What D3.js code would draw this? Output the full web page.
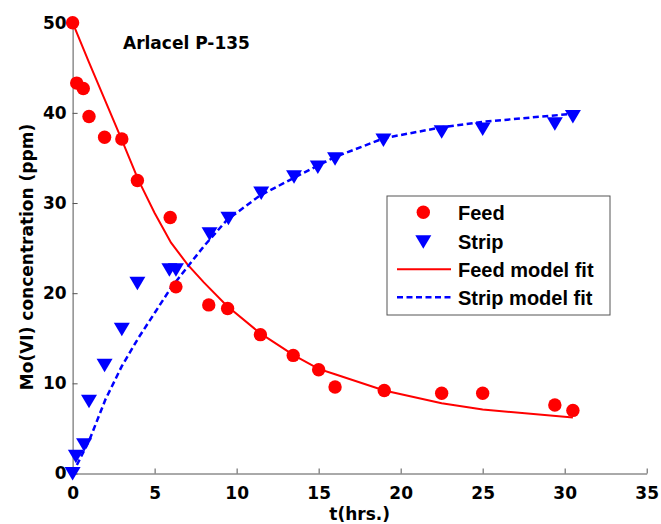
<!DOCTYPE html>
<html>
<head>
<meta charset="utf-8">
<script src="https://cdn.jsdelivr.net/npm/d3@7"></script>
<style>
  body { margin: 0; background: #fff; }
  text { font-family: "DejaVu Sans", sans-serif; font-weight: bold; fill: #000; }
  .axis path, .axis line { stroke: #555; }
</style>
</head>
<body>
<div class="container"></div>
<script>
// measured points
const feedT = [0, 0.25, 0.65, 1.0, 1.95, 3.0, 3.95, 5.95, 6.3, 8.3, 9.45, 11.45, 13.45, 15.0, 16.0, 19.0, 22.5, 25.0, 29.4, 30.5]
const feedV = [50, 43.3, 42.7, 39.6, 37.3, 37.1, 32.5, 28.4, 20.7, 18.7, 18.3, 15.4, 13.1, 11.5, 9.6, 9.2, 8.9, 8.9, 7.6, 7.0]
const stripT = [0, 0.2, 0.7, 1.0, 1.95, 3.0, 3.95, 5.9, 6.3, 8.35, 9.5, 11.5, 13.5, 14.95, 16.0, 18.95, 22.5, 25.0, 29.4, 30.5]
const stripV = [0, 1.9, 3.2, 8.0, 12.0, 16.0, 21.1, 22.6, 22.6, 26.6, 28.3, 31.1, 32.9, 34.0, 34.9, 37.0, 37.9, 38.2, 38.8, 39.6]

// model fits
const fitT = [0, 1, 2, 3, 4, 5, 6, 7, 8, 9.4, 11.4, 13.5, 15, 16, 19, 22.5, 25, 30.5]
const feedFit = [50, 45.6, 41.3, 37.0, 32.6, 28.9, 25.6, 23.2, 21.2, 18.6, 15.6, 13.1, 11.6, 11.0, 9.2, 7.8, 7.1, 6.2]
const stripFit = [0, 3.6, 8.2, 11.9, 15.0, 17.8, 20.6, 22.9, 25.2, 28.1, 30.8, 32.8, 34.2, 35.1, 37.2, 38.4, 39.0, 39.9]

const xTicks = [0, 5, 10, 15, 20, 25, 30, 35]
const yTicks = [0, 10, 20, 30, 40, 50]
const legendLabels = ['Feed', 'Strip', 'Feed model fit', 'Strip model fit']

let width = 661
let height = 524
let margin = { left: 72.6, right: 14.3, top: 22.7, bottom: 50.5 }

let svg = d3.select('.container')
    .append('svg')
    .attr('width', width)
    .attr('height', height)

let xScale = d3.scaleLinear()
    .domain([0, 35])
    .range([margin.left, width - margin.right])

let yScale = d3.scaleLinear()
    .domain([0, 50])
    .range([height - margin.bottom, margin.top])

let xAxis = d3.axisBottom(xScale)
    .tickValues(xTicks)
    .tickSizeInner(-5)
    .tickSizeOuter(0)
    .tickPadding(9)

let yAxis = d3.axisLeft(yScale)
    .tickValues(yTicks)
    .tickSizeInner(-5)
    .tickSizeOuter(0)
    .tickPadding(6)

let gx = svg.append('g')
    .attr('class', 'x axis')
    .attr('transform', `translate(0,${height - margin.bottom})`)
    .call(xAxis)
gx.selectAll('text').style('font-size', '17px').attr('dy', '0.95em')

let gy = svg.append('g')
    .attr('class', 'y axis')
    .attr('transform', `translate(${margin.left},0)`)
    .call(yAxis)
gy.selectAll('text').style('font-size', '17px')

// axis titles
svg.append('text')
    .attr('x', xScale(17.5))
    .attr('y', 520)
    .attr('text-anchor', 'middle')
    .style('font-size', '17px')
    .text('t(hrs.)')

svg.append('text')
    .attr('transform', 'translate(33,257) rotate(-90)')
    .attr('text-anchor', 'middle')
    .style('font-size', '17px')
    .text('Mo(VI) concentration (ppm)')

svg.append('text')
    .attr('x', 123)
    .attr('y', 48.5)
    .style('font-size', '17px')
    .text('Arlacel P-135')

// fit lines
let line = d3.line()
    .x((d) => xScale(d[0]))
    .y((d) => yScale(d[1]))

svg.append('path')
    .datum(fitT.map((t, i) => [t, feedFit[i]]))
    .attr('d', line)
    .attr('fill', 'none')
    .attr('stroke', '#ff0000')
    .attr('stroke-width', 2)

svg.append('path')
    .datum(fitT.map((t, i) => [t, stripFit[i]]))
    .attr('d', line)
    .attr('fill', 'none')
    .attr('stroke', '#0000ff')
    .attr('stroke-width', 2.5)
    .attr('stroke-dasharray', '6,3.5')

let tri = 'M-8,-6.5L8,-6.5L0,7Z'

svg.selectAll('path.strip')
    .data(stripT.map((t, i) => [t, stripV[i]]))
    .enter()
    .append('path')
    .attr('class', 'strip')
    .attr('d', tri)
    .attr('fill', '#0000ff')
    .attr('transform', (d) => `translate(${xScale(d[0])},${yScale(d[1])})`)

svg.selectAll('circle.feed')
    .data(feedT.map((t, i) => [t, feedV[i]]))
    .enter()
    .append('circle')
    .attr('class', 'feed')
    .attr('cx', (d) => xScale(d[0]))
    .attr('cy', (d) => yScale(d[1]))
    .attr('r', 6.7)
    .attr('fill', '#ff0000')

// legend
let legend = svg.append('g').attr('transform', 'translate(387,196)')
legend.append('rect')
    .attr('width', 223)
    .attr('height', 119)
    .attr('fill', '#fff')
    .attr('stroke', '#555')
    .attr('stroke-width', 1)

let rowY = [16.3, 45.7, 73.3, 101.3]
legend.append('circle').attr('cx', 36.3).attr('cy', rowY[0]).attr('r', 6.7).attr('fill', '#ff0000')
legend.append('path').attr('d', tri).attr('fill', '#0000ff')
    .attr('transform', `translate(36.3,${rowY[1]})`)
legend.append('line').attr('x1', 10).attr('x2', 64).attr('y1', rowY[2]).attr('y2', rowY[2])
    .attr('stroke', '#ff0000').attr('stroke-width', 2)
legend.append('line').attr('x1', 10).attr('x2', 64).attr('y1', rowY[3]).attr('y2', rowY[3])
    .attr('stroke', '#0000ff').attr('stroke-width', 2.5).attr('stroke-dasharray', '6,3.5')

legend.selectAll('text.lab')
    .data(legendLabels)
    .enter()
    .append('text')
    .attr('class', 'lab')
    .attr('x', 71)
    .attr('y', (d, i) => rowY[i])
    .attr('dy', '0.36em')
    .style('font-family', '"Liberation Sans", Arial, sans-serif')
    .style('font-size', '20px')
    .text((d) => d)
</script>
</body>
</html>
